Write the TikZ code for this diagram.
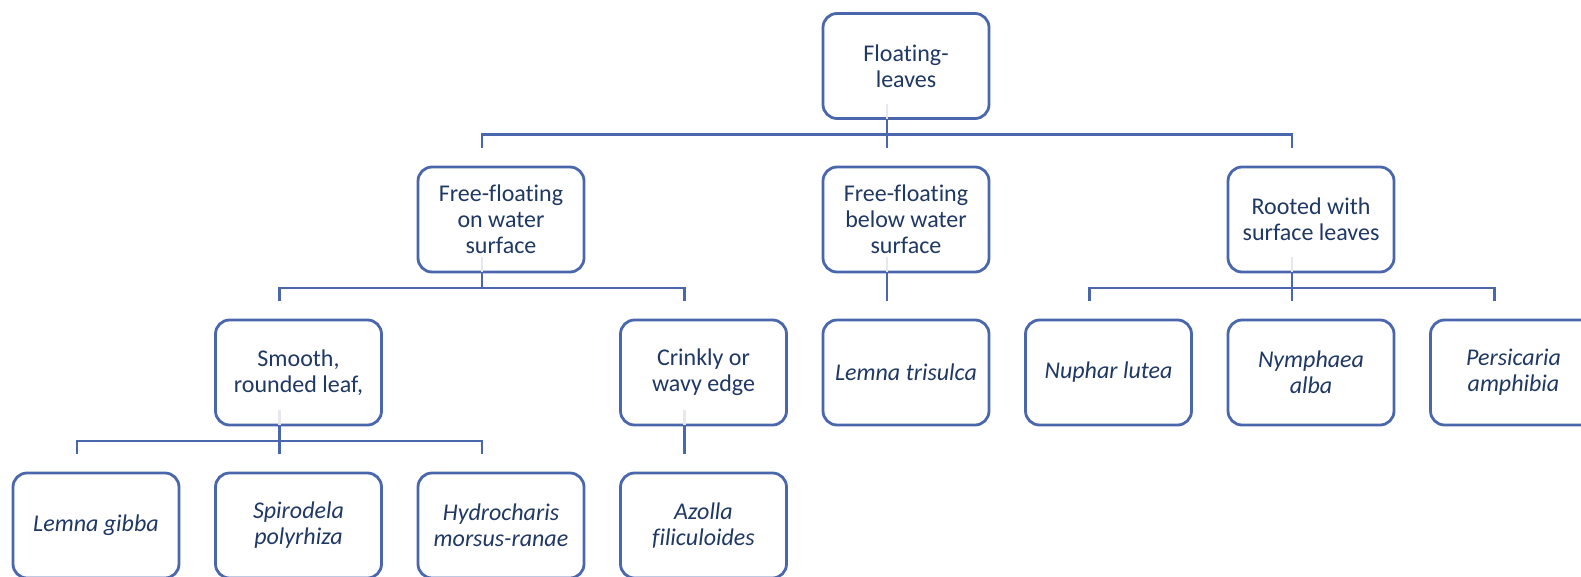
\documentclass[tikz,border=0pt]{standalone}
\usepackage{fontspec}
\setmainfont[Ligatures=NoCommon]{Carlito}
\definecolor{boxblue}{HTML}{4A67AD}
\definecolor{txtblue}{HTML}{1F3864}
\definecolor{faint}{HTML}{E6E8EE}
\tikzset{
  tbox/.style={draw=boxblue, line width=2.8pt, rounded corners=14pt, fill=white,
    minimum width=166pt, minimum height=105pt, inner sep=0pt,
    text=txtblue, align=center, font=\fontsize{24}{26}\selectfont},
  conn/.style={draw=boxblue, line width=2.8pt},
  fade/.style={draw=faint, line width=2.8pt},
}
\begin{document}
\begin{tikzpicture}[x=1pt,y=-1pt]
\useasboundingbox (0,0) rectangle (1581,576);
\clip (0,0) rectangle (1581,576);
% row 1
\node[tbox] (root) at (906,66) {Floating-\\leaves};
% row 2
\node[tbox] (ffon) at (501,219.5) {Free-floating\\on water\\surface};
\node[tbox] (ffbelow) at (906,219.5) {Free-floating\\below water\\surface};
\node[tbox] (rooted) at (1311,219.5) {Rooted with\\surface leaves};
% row 3
\node[tbox] (smooth) at (298.5,372.5) {Smooth,\\rounded leaf,};
\node[tbox] (crinkly) at (703.5,372.5) {Crinkly or\\wavy edge};
\node[tbox] (ltris) at (906,372.5) {\itshape Lemna trisulca};
\node[tbox] (nuphar) at (1108.5,372.5) {\itshape Nuphar lutea};
\node[tbox] (nymph) at (1311,372.5) {\itshape Nymphaea\\\itshape alba};
\node[tbox] (persic) at (1513.5,372.5) {\itshape Persicaria\\\itshape amphibia};
% row 4
\node[tbox] (lgibba) at (96,525.5) {\itshape Lemna gibba};
\node[tbox] (spiro) at (298.5,525.5) {\itshape Spirodela\\\itshape polyrhiza};
\node[tbox] (hydro) at (501,525.5) {\itshape Hydrocharis\\\itshape morsus-ranae};
\node[tbox] (azolla) at (703.5,525.5) {\itshape Azolla\\\itshape filiculoides};

% faint stubs inside parent boxes
\foreach \p in {root,ffon,ffbelow,rooted,smooth,crinkly}
  \draw[fade] ([xshift=-19pt,yshift=1.4pt]\p.south) -- ++(0,-15);

% root -> row 2
\draw[conn] ([xshift=-19pt,yshift=1.4pt]root.south) -- ++(0,16) coordinate (busA);
\foreach \c in {ffon,ffbelow,rooted}
  \draw[conn] (busA) -| ([xshift=-19pt,yshift=18pt]\c.north);
% ffon -> row 3
\draw[conn] ([xshift=-19pt,yshift=1.4pt]ffon.south) -- ++(0,16) coordinate (busB);
\foreach \c in {smooth,crinkly}
  \draw[conn] (busB) -| ([xshift=-19pt,yshift=18pt]\c.north);
% ffbelow -> ltris
\draw[conn] ([xshift=-19pt,yshift=1.4pt]ffbelow.south) -- ([xshift=-19pt,yshift=18pt]ltris.north);
% rooted -> row 3
\draw[conn] ([xshift=-19pt,yshift=1.4pt]rooted.south) -- ++(0,16) coordinate (busC);
\foreach \c in {nuphar,nymph,persic}
  \draw[conn] (busC) -| ([xshift=-19pt,yshift=18pt]\c.north);
% smooth -> row 4
\draw[conn] ([xshift=-19pt,yshift=1.4pt]smooth.south) -- ++(0,16) coordinate (busD);
\foreach \c in {lgibba,spiro,hydro}
  \draw[conn] (busD) -| ([xshift=-19pt,yshift=18pt]\c.north);
% crinkly -> azolla
\draw[conn] ([xshift=-19pt,yshift=1.4pt]crinkly.south) -- ([xshift=-19pt,yshift=18pt]azolla.north);
\end{tikzpicture}
\end{document}
